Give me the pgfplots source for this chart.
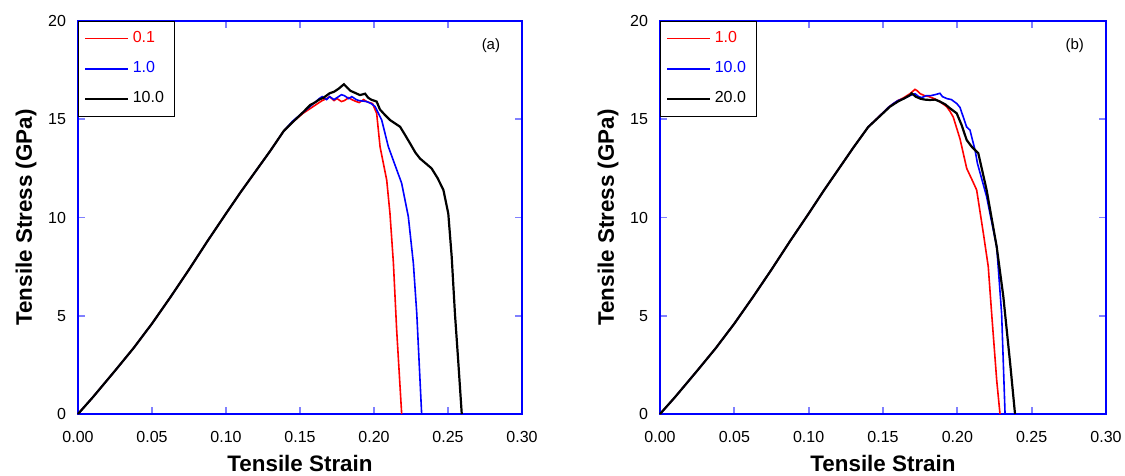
\documentclass[border=0pt]{standalone}
\usepackage{fontspec}
\setmainfont{Liberation Sans}
\usepackage{pgfplots}
\pgfplotsset{compat=1.18}

% panel (a)
\pgfplotstableread{
x y
0 0
0.01 0.85
0.025 2.2
0.0375 3.35
0.05 4.6
0.0625 5.95
0.075 7.35
0.0875 8.8
0.10 10.2
0.11 11.3
0.12 12.35
0.13 13.4
0.139 14.4
0.145 14.85
0.152 15.3
0.156 15.5
0.160 15.7
0.165 15.95
0.168 16.05
0.170 16.15
0.173 15.95
0.175 16.05
0.178 15.9
0.180 15.95
0.183 16.1
0.185 16.0
0.188 15.9
0.190 15.85
0.193 16.0
0.195 15.9
0.199 15.8
0.2018 15.3
0.2041 13.6
0.2086 11.9
0.2108 10.2
0.2131 7.7
0.2153 4.3
0.2187 0
}\redA
\pgfplotstableread{
x y
0 0
0.01 0.85
0.025 2.2
0.0375 3.35
0.05 4.6
0.0625 5.95
0.075 7.35
0.0875 8.8
0.10 10.2
0.11 11.3
0.12 12.35
0.13 13.4
0.139 14.4
0.145 14.9
0.152 15.35
0.156 15.6
0.160 15.85
0.163 16.05
0.165 16.15
0.168 16.0
0.170 16.15
0.173 16.0
0.175 16.1
0.178 16.25
0.180 16.2
0.183 16.05
0.185 16.15
0.188 16.0
0.190 15.95
0.195 15.9
0.198 15.8
0.2007 15.65
0.2052 14.96
0.2097 13.6
0.2142 12.67
0.2187 11.74
0.2232 10.04
0.2266 7.67
0.2289 5.12
0.2322 0
}\blueA
\pgfplotstableread{
x y
0 0
0.01 0.85
0.025 2.2
0.0375 3.35
0.05 4.6
0.0625 5.95
0.075 7.35
0.0875 8.8
0.10 10.2
0.11 11.3
0.12 12.35
0.13 13.4
0.139 14.4
0.145 14.85
0.152 15.35
0.157 15.73
0.160 15.85
0.163 16.0
0.166 16.1
0.170 16.32
0.173 16.4
0.176 16.55
0.1797 16.78
0.182 16.6
0.184 16.45
0.187 16.35
0.1905 16.23
0.194 16.3
0.196 16.1
0.198 16.0
0.2018 15.9
0.204 15.5
0.207 15.25
0.2108 14.96
0.214 14.8
0.2176 14.62
0.221 14.2
0.2243 13.78
0.228 13.3
0.2311 13.0
0.235 12.75
0.2389 12.5
0.243 12.0
0.2469 11.4
0.2502 10.2
0.2525 8.0
0.2547 5.1
0.257 2.6
0.2593 0
}\blackA
% panel (b)
\pgfplotstableread{
x y
0 0
0.01 0.85
0.025 2.2
0.0375 3.35
0.05 4.6
0.0625 5.95
0.075 7.35
0.0875 8.8
0.10 10.2
0.11 11.35
0.12 12.45
0.13 13.55
0.14 14.6
0.1536 15.6
0.157 15.8
0.160 15.95
0.164 16.1
0.1682 16.3
0.1715 16.52
0.173 16.45
0.175 16.3
0.178 16.2
0.181 16.15
0.1838 16.07
0.187 15.95
0.190 15.8
0.1928 15.64
0.1951 15.4
0.1973 15.1
0.2018 14.0
0.2063 12.5
0.210 11.9
0.213 11.4
0.2175 9.2
0.2208 7.5
0.2231 5.1
0.2265 1.7
0.2287 0
}\redB
\pgfplotstableread{
x y
0 0
0.01 0.85
0.025 2.2
0.0375 3.35
0.05 4.6
0.0625 5.95
0.075 7.35
0.0875 8.8
0.10 10.2
0.11 11.35
0.12 12.45
0.13 13.55
0.14 14.6
0.1536 15.6
0.157 15.8
0.160 15.95
0.164 16.05
0.168 16.2
0.1715 16.3
0.174 16.15
0.176 16.1
0.179 16.2
0.182 16.2
0.185 16.25
0.1883 16.32
0.190 16.15
0.193 16.05
0.196 16.0
0.1996 15.8
0.2018 15.6
0.2063 14.6
0.2085 14.45
0.212 13.4
0.2135 12.76
0.2197 11.06
0.2265 8.5
0.2298 5.1
0.2321 0
}\blueB
\pgfplotstableread{
x y
0 0
0.01 0.85
0.025 2.2
0.0375 3.35
0.05 4.6
0.0625 5.95
0.075 7.35
0.0875 8.8
0.10 10.2
0.11 11.35
0.12 12.45
0.13 13.55
0.14 14.6
0.1547 15.64
0.160 15.9
0.164 16.05
0.1682 16.23
0.1693 16.32
0.172 16.15
0.175 16.05
0.178 16.0
0.1816 15.98
0.185 16.0
0.1883 15.9
0.192 15.75
0.195 15.56
0.1996 15.3
0.2029 14.7
0.2063 13.94
0.2097 13.6
0.2141 13.27
0.2197 11.4
0.2265 8.5
0.2309 6.0
0.2355 2.6
0.2388 0
}\blackB

\pgfplotsset{
  tsplot/.style={
    scale only axis, width=222pt, height=196.5pt,
    xmin=0, xmax=0.3, ymin=0, ymax=20,
    xtick={0,0.05,...,0.3}, ytick={0,5,10,15,20},
    /pgf/number format/assume math mode=true,
    tick label style={font=\fontsize{8}{9}\selectfont},
    xticklabel style={yshift=-5pt, /pgf/number format/.cd, fixed, fixed zerofill, precision=2},
    yticklabel style={xshift=-2.5pt},
    tick align=inside, major tick length=3.5pt,
    every major tick/.append style={draw=blue!50, line width=0.9pt},
    axis line style={blue, line width=1pt},
    xlabel={Tensile Strain}, ylabel={Tensile Stress (GPa)},
    label style={font=\fontsize{11.2}{13}\selectfont\bfseries},
    xlabel style={at={(axis description cs:0.5,0)}, anchor=north, yshift=-17pt},
    ylabel style={yshift=-1pt},
    legend style={at={(0,1)}, anchor=north west, draw=black,
      font=\fontsize{8}{9}\selectfont, row sep=4pt, inner xsep=3pt, inner ysep=3pt},
    legend cell align=left,
    legend image code/.code={\draw[#1, line width=0.85pt, line cap=butt] (0cm,0cm) -- (0.75cm,0cm);},
    clip=false,
  }
}

\begin{document}
\begin{tikzpicture}
\path[use as bounding box] (-39pt,-31pt) rectangle (523.5pt,207pt);
\begin{axis}[tsplot]
\addplot[red, line width=0.8pt] table[x=x,y=y] {\redA};
\addlegendentry{\textcolor{red}{0.1}}
\addplot[blue, line width=0.8pt] table[x=x,y=y] {\blueA};
\addlegendentry{\textcolor{blue}{1.0}}
\addplot[black, line width=1.1pt] table[x=x,y=y] {\blackA};
\addlegendentry{10.0}
\node[font=\fontsize{7.5}{9}\selectfont] at (axis cs:0.279,18.74) {(a)};
\end{axis}
\begin{axis}[tsplot, xshift=291pt, width=223pt]
\addplot[red, line width=0.8pt] table[x=x,y=y] {\redB};
\addlegendentry{\textcolor{red}{1.0}}
\addplot[blue, line width=0.8pt] table[x=x,y=y] {\blueB};
\addlegendentry{\textcolor{blue}{10.0}}
\addplot[black, line width=1.1pt] table[x=x,y=y] {\blackB};
\addlegendentry{20.0}
\node[font=\fontsize{7.5}{9}\selectfont] at (axis cs:0.279,18.74) {(b)};
\end{axis}
\end{tikzpicture}
\end{document}
